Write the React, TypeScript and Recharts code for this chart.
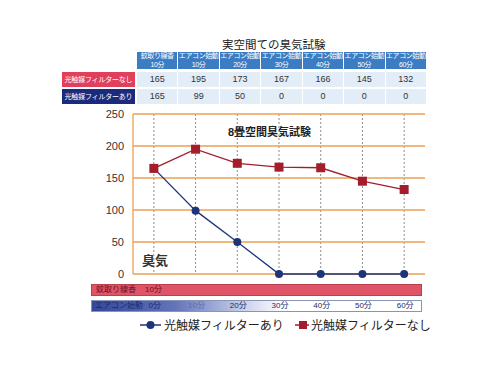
import { LineChart, Line, XAxis, YAxis, CartesianGrid } from 'recharts';

const stages = ['蚊取り線香', 'エアコン始動', 'エアコン始動', 'エアコン始動', 'エアコン始動', 'エアコン始動', 'エアコン始動'];
const durations = ['10分', '10分', '20分', '30分', '40分', '50分', '60分'];
const acMinutes = ['0分', '10分', '20分', '30分', '40分', '50分', '60分'];
const withoutFilter = [165, 195, 173, 167, 166, 145, 132];
const withFilter = [165, 99, 50, 0, 0, 0, 0];
const yTicks = [0, 50, 100, 150, 200, 250];

const data = stages.map((s, i) => ({
    key: `${s}${durations[i]}`,
    with: withFilter[i],
    without: withoutFilter[i],
}));

const font = '"Liberation Sans", "Noto Sans CJK JP", sans-serif';
const NAVY = '#1d3479';
const RED = '#a31d2b';

// plot area geometry
const PLOT_LEFT = 133;
const PLOT_RIGHT = 425;
const PLOT_TOP = 114;
const PLOT_BOTTOM = 274;
const colW = (PLOT_RIGHT - PLOT_LEFT) / stages.length;

const Square = (props: any) => {
    const { cx, cy } = props;
    if (cx == null || cy == null) return null;
    return <rect x={cx - 4.5} y={cy - 4.5} width={9} height={9} fill={RED} />;
};

// vertical dotted lines only at category centres (no edge line)
const centreLines = (props: any) => {
    const left = props?.offset?.left ?? PLOT_LEFT;
    const width = props?.offset?.width ?? PLOT_RIGHT - PLOT_LEFT;
    const w = width / data.length;
    return data.map((_, i) => left + (i + 0.5) * w);
};

export default function App() {
    const tableLeft = 137;
    const tableColW = (427 - tableLeft) / stages.length;
    return (
        <div style={{ position: 'absolute', left: 0, top: 0, width: 490, height: 368, background: '#fff', fontFamily: font }}>
            {/* title */}
            <div style={{ position: 'absolute', left: 222, top: 36, fontSize: 11.5, color: '#222', whiteSpace: 'nowrap' }}>
                実空間ての臭気試験
            </div>

            {/* table header */}
            {stages.map((s, i) => (
                <div
                    key={`h${i}`}
                    style={{
                        position: 'absolute', left: tableLeft + i * tableColW, top: 52, width: tableColW - 1, height: 17,
                        background: '#3b7cc3', color: '#fff', fontSize: 7, lineHeight: '8.5px', textAlign: 'center',
                        whiteSpace: 'nowrap', letterSpacing: -0.4, overflow: 'hidden',
                    }}
                >
                    <div>{s}</div>
                    <div>{durations[i]}</div>
                </div>
            ))}

            {/* table rows */}
            {[
                { label: '光触媒フィルターなし', bg: '#e1405c', values: withoutFilter, top: 72 },
                { label: '光触媒フィルターあり', bg: '#1b2a7e', values: withFilter, top: 89 },
            ].map((row) => (
                <div key={row.label}>
                    <div
                        style={{
                            position: 'absolute', left: 62, top: row.top, width: 73, height: 15, background: row.bg,
                            color: '#fff', fontSize: 7, lineHeight: '15px', textAlign: 'center', whiteSpace: 'nowrap',
                            letterSpacing: -0.2,
                        }}
                    >
                        {row.label}
                    </div>
                    {row.values.map((v, i) => (
                        <div
                            key={i}
                            style={{
                                position: 'absolute', left: tableLeft + i * tableColW, top: row.top, width: tableColW - 1, height: 15,
                                background: '#e3edf8', color: '#333', fontSize: 9, lineHeight: '15px', textAlign: 'center',
                            }}
                        >
                            {v}
                        </div>
                    ))}
                </div>
            ))}

            <div style={{ position: 'absolute', left: 0, top: 0 }}>
                <LineChart
                    width={490}
                    height={368}
                    data={data}
                    margin={{ top: PLOT_TOP, bottom: 368 - PLOT_BOTTOM, left: PLOT_LEFT - 40, right: 490 - PLOT_RIGHT }}
                >
                    <CartesianGrid
                        horizontal={false}
                        vertical={true}
                        verticalCoordinatesGenerator={centreLines}
                        stroke="#8c8c8c"
                        strokeDasharray="2 2"
                    />
                    <CartesianGrid horizontal={true} vertical={false} stroke="#e8a155" strokeWidth={1.3} />
                    <XAxis dataKey="key" scale="band" interval={0} hide />
                    <YAxis
                        width={40}
                        domain={[0, 250]}
                        ticks={yTicks}
                        tickLine={false}
                        axisLine={{ stroke: '#e8a155', strokeWidth: 1.3 }}
                        tick={{ fill: '#333', fontSize: 11, fontFamily: font }}
                        tickMargin={3}
                    />
                    <Line
                        dataKey="with"
                        name="光触媒フィルターあり"
                        stroke={NAVY}
                        strokeWidth={1.3}
                        dot={{ r: 4, fill: NAVY, stroke: NAVY, strokeWidth: 0 }}
                        isAnimationActive={false}
                    />
                    <Line
                        dataKey="without"
                        name="光触媒フィルターなし"
                        stroke={RED}
                        strokeWidth={1.3}
                        dot={<Square />}
                        isAnimationActive={false}
                    />
                </LineChart>
            </div>

            {/* in-plot labels */}
            <div style={{ position: 'absolute', left: 228, top: 123, fontSize: 11, fontWeight: 'bold', color: '#222' }}>
                8畳空間臭気試験
            </div>
            <div style={{ position: 'absolute', left: 142, top: 250, fontSize: 13, fontWeight: 'bold', color: '#333' }}>
                臭気
            </div>

            {/* timeline bars */}
            <div
                style={{
                    position: 'absolute', left: 91, top: 284, width: 331, height: 12, background: '#e05468',
                    border: '1px solid #b8404f', boxSizing: 'border-box', fontSize: 8, lineHeight: '10px', color: '#6a1020',
                }}
            >
                <span style={{ position: 'absolute', left: 4 }}>{stages[0]}</span>
                <span style={{ position: 'absolute', left: 53 }}>{durations[0]}</span>
            </div>
            <div
                style={{
                    position: 'absolute', left: 91, top: 300, width: 331, height: 12,
                    background: 'linear-gradient(to right, #34489a 0%, #6273b8 25%, #c3cbe8 45%, #ffffff 58%, #ffffff 100%)',
                    border: '1px solid #8a94b8', boxSizing: 'border-box', fontSize: 8, lineHeight: '10px', color: '#1b2a6e',
                }}
            >
                <span style={{ position: 'absolute', left: 3 }}>{stages[1]}</span>
                {acMinutes.map((m, i) => (
                    <span
                        key={m}
                        style={{
                            position: 'absolute', left: PLOT_LEFT - 91 + (i + 0.5) * colW - 20, width: 40, textAlign: 'center',
                            color: i === 1 ? '#5a6db0' : '#1b2a6e',
                        }}
                    >
                        {m}
                    </span>
                ))}
            </div>

            {/* legend */}
            <div style={{ position: 'absolute', left: 140, top: 316, fontSize: 12, color: '#222', whiteSpace: 'nowrap' }}>
                <span style={{ position: 'absolute', left: 0, top: 0, display: 'flex', alignItems: 'center', gap: 3 }}>
                    <svg width={21} height={10}>
                        <line x1={0} y1={5} x2={21} y2={5} stroke={NAVY} strokeWidth={1.5} />
                        <circle cx={10.5} cy={5} r={4} fill={NAVY} />
                    </svg>
                    光触媒フィルターあり
                </span>
                <span style={{ position: 'absolute', left: 155, top: 0, display: 'flex', alignItems: 'center', gap: 2 }}>
                    <svg width={14} height={10}>
                        <line x1={0} y1={5} x2={14} y2={5} stroke={RED} strokeWidth={1.5} />
                        <rect x={4} y={1} width={8} height={8} fill={RED} />
                    </svg>
                    光触媒フィルターなし
                </span>
            </div>
        </div>
    );
}
